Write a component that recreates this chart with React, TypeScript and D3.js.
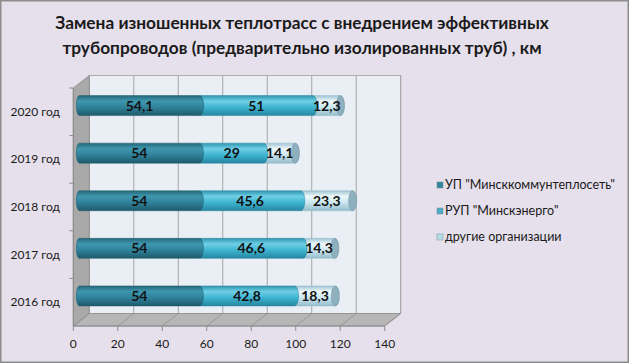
import React from 'react'
import * as d3 from 'd3'

const years = ['2016 год', '2017 год', '2018 год', '2019 год', '2020 год']
const minskKommun = [54, 54, 54, 54, 54.1]
const minskEnergo = [42.8, 46.6, 45.6, 29, 51]
const others = [18.3, 14.3, 23.3, 14.1, 12.3]
const seriesNames = ['УП "Минсккоммунтеплосеть"', 'РУП "Минскэнерго"', 'другие организации']
const xTicks = [0, 20, 40, 60, 80, 100, 120, 140]

const W = 629
const H = 363
const DX = 16
const DY = -12.5
const FONT = 'Lato, "Open Sans", sans-serif'

const colors = [
  { id: 'g0', stops: ['#25687b', '#3f97ae', '#2f819a', '#1f5a6b'], cap: '#2a7186' },
  { id: 'g1', stops: ['#2f95b0', '#6fcfe5', '#3db3d0', '#2686a0'], cap: '#3aa6c1' },
  { id: 'g2', stops: ['#9fc5d3', '#eef8fb', '#c9e6ef', '#95bccb'], cap: '#8fb0bf' },
]
const legendColors = ['#31859c', '#4bacc6', '#b7dee8']

const fmt = d3.formatLocale({ decimal: ',', thousands: ' ', grouping: [3], currency: ['', ''] }).format('~f')

export default function App() {
  const x = d3.scaleLinear().domain([0, 140]).range([73.3, 384.7])
  const y = d3.scaleBand().domain(years.slice().reverse()).range([88, 326])

  const rows = years.map((yr, i) => ({ yr, a: minskKommun[i], b: minskEnergo[i], c: others[i] }))
  const stack = d3.stack<any>().keys(['a', 'b', 'c'])(rows)

  // bars sit half way into the depth
  const bx = 6
  const by = DY / 2
  const barH = 20
  const rx = 4
  const lrx = 3
  const ry = barH / 2

  const floorY = y.range()[1]
  const topY = y.range()[0]

  return (
    <svg width={W} height={H} style={{ position: 'absolute', left: 0, top: 0 }} fontFamily={FONT}>
      <defs>
        {colors.map(c => (
          <linearGradient key={c.id} id={c.id} x1="0" y1="0" x2="0" y2="1">
            <stop offset="0" stopColor={c.stops[0]} />
            <stop offset="0.28" stopColor={c.stops[1]} />
            <stop offset="0.6" stopColor={c.stops[2]} />
            <stop offset="1" stopColor={c.stops[3]} />
          </linearGradient>
        ))}
      </defs>
      <rect x={0.75} y={0.75} width={W - 1.5} height={H - 1.5} fill="#e6e0ec" stroke="#8c8c8c" strokeWidth={1.5} />

      <text x={302} y={29} textAnchor="middle" fontSize={17.3} fontWeight="bold" fill="#1a1a1a">
        Замена изношенных теплотрасс с внедрением эффективных
      </text>
      <text x={302} y={54} textAnchor="middle" fontSize={17.3} fontWeight="bold" fill="#1a1a1a">
        трубопроводов (предварительно изолированных труб) , км
      </text>

      {/* back wall */}
      <rect x={x(0) + DX} y={topY + DY} width={x(140) - x(0)} height={floorY - topY} fill="#e9eff5" stroke="#a0a0a0" strokeWidth={0.8} />
      {xTicks.slice(1).map(t => (
        <line key={'g' + t} x1={x(t) + DX} x2={x(t) + DX} y1={topY + DY} y2={floorY + DY} stroke="#a6a6a6" strokeWidth={1} />
      ))}
      {/* side wall */}
      <path
        d={`M${x(0)},${topY} L${x(0) + DX},${topY + DY} L${x(0) + DX},${floorY + DY} L${x(0)},${floorY} Z`}
        fill="#a9a9a9" stroke="#8a8a8a" strokeWidth={0.8}
      />
      {/* floor */}
      <path
        d={`M${x(0)},${floorY} L${x(140)},${floorY} L${x(140) + DX},${floorY + DY} L${x(0) + DX},${floorY + DY} Z`}
        fill="#b6b6b6" stroke="#8f8f8f" strokeWidth={0.8}
      />
      {xTicks.map(t => (
        <line key={'f' + t} x1={x(t)} y1={floorY} x2={x(t) + DX} y2={floorY + DY} stroke="#8f8f8f" strokeWidth={0.8} />
      ))}

      {/* axes */}
      <line x1={x(0)} x2={x(140)} y1={floorY} y2={floorY} stroke="#8c8c8c" />
      {xTicks.map(t => (
        <g key={'t' + t}>
          <line x1={x(t)} x2={x(t)} y1={floorY} y2={floorY + 5} stroke="#8c8c8c" />
          <text x={x(t)} y={348} textAnchor="middle" fontSize={12} fill="#1a1a1a">{t}</text>
        </g>
      ))}
      <line x1={x(0)} x2={x(0)} y1={topY} y2={floorY} stroke="#8c8c8c" />
      {y.domain().map(d => (
        <line key={'yt' + d} x1={x(0) - 4} x2={x(0)} y1={y(d)!} y2={y(d)!} stroke="#8c8c8c" />
      ))}
      {y.domain().map(d => (
        <text key={'yl' + d} x={60} y={y(d)! + y.bandwidth() / 2 + 4} textAnchor="end" fontSize={12} fill="#1a1a1a">{d}</text>
      ))}

      {/* bars */}
      {rows.map((r, i) => {
        const cy = y(r.yr)! + y.bandwidth() / 2 + by
        const top = cy - ry
        const bot = cy + ry
        const segs = stack.map((s, k) => ({ k, x0: x(s[i][0]) + bx, x1: x(s[i][1]) + bx, v: s[i][1] - s[i][0] }))
        return (
          <g key={r.yr}>
            {segs.slice().reverse().map(sg => {
              const left = sg.k === 0
                ? `A${lrx},${ry} 0 0 1 ${sg.x0},${top}`
                : 'Z'
              return (
                <path key={sg.k}
                  d={`M${sg.x0},${top} L${sg.x1},${top} A${rx},${ry} 0 0 1 ${sg.x1},${bot} L${sg.x0},${bot} ${left}`}
                  fill={`url(#${colors[sg.k].id})`}
                  stroke={colors[sg.k].stops[3]} strokeWidth={0.5}
                />
              )
            })}
            <ellipse cx={segs[2].x1} cy={cy} rx={rx} ry={ry} fill={colors[2].cap} stroke="#6f8f9e" strokeWidth={0.5} />
            {segs.map(sg => (
              <text key={'l' + sg.k} x={(sg.x0 + sg.x1) / 2} y={cy + 5} textAnchor="middle" fontSize={14} fontWeight="bold" fill="#111">
                {fmt(sg.v)}
              </text>
            ))}
          </g>
        )
      })}

      {/* legend */}
      {seriesNames.map((n, k) => (
        <g key={n} transform={`translate(437, ${185 + k * 26})`}>
          <rect x={0} y={-3} width={6} height={6} fill={legendColors[k]} stroke="#6f8f9e" strokeWidth={0.5} />
          <text x={8} y={4} fontSize={12.5} fill="#1a1a1a">{n}</text>
        </g>
      ))}
    </svg>
  )
}
